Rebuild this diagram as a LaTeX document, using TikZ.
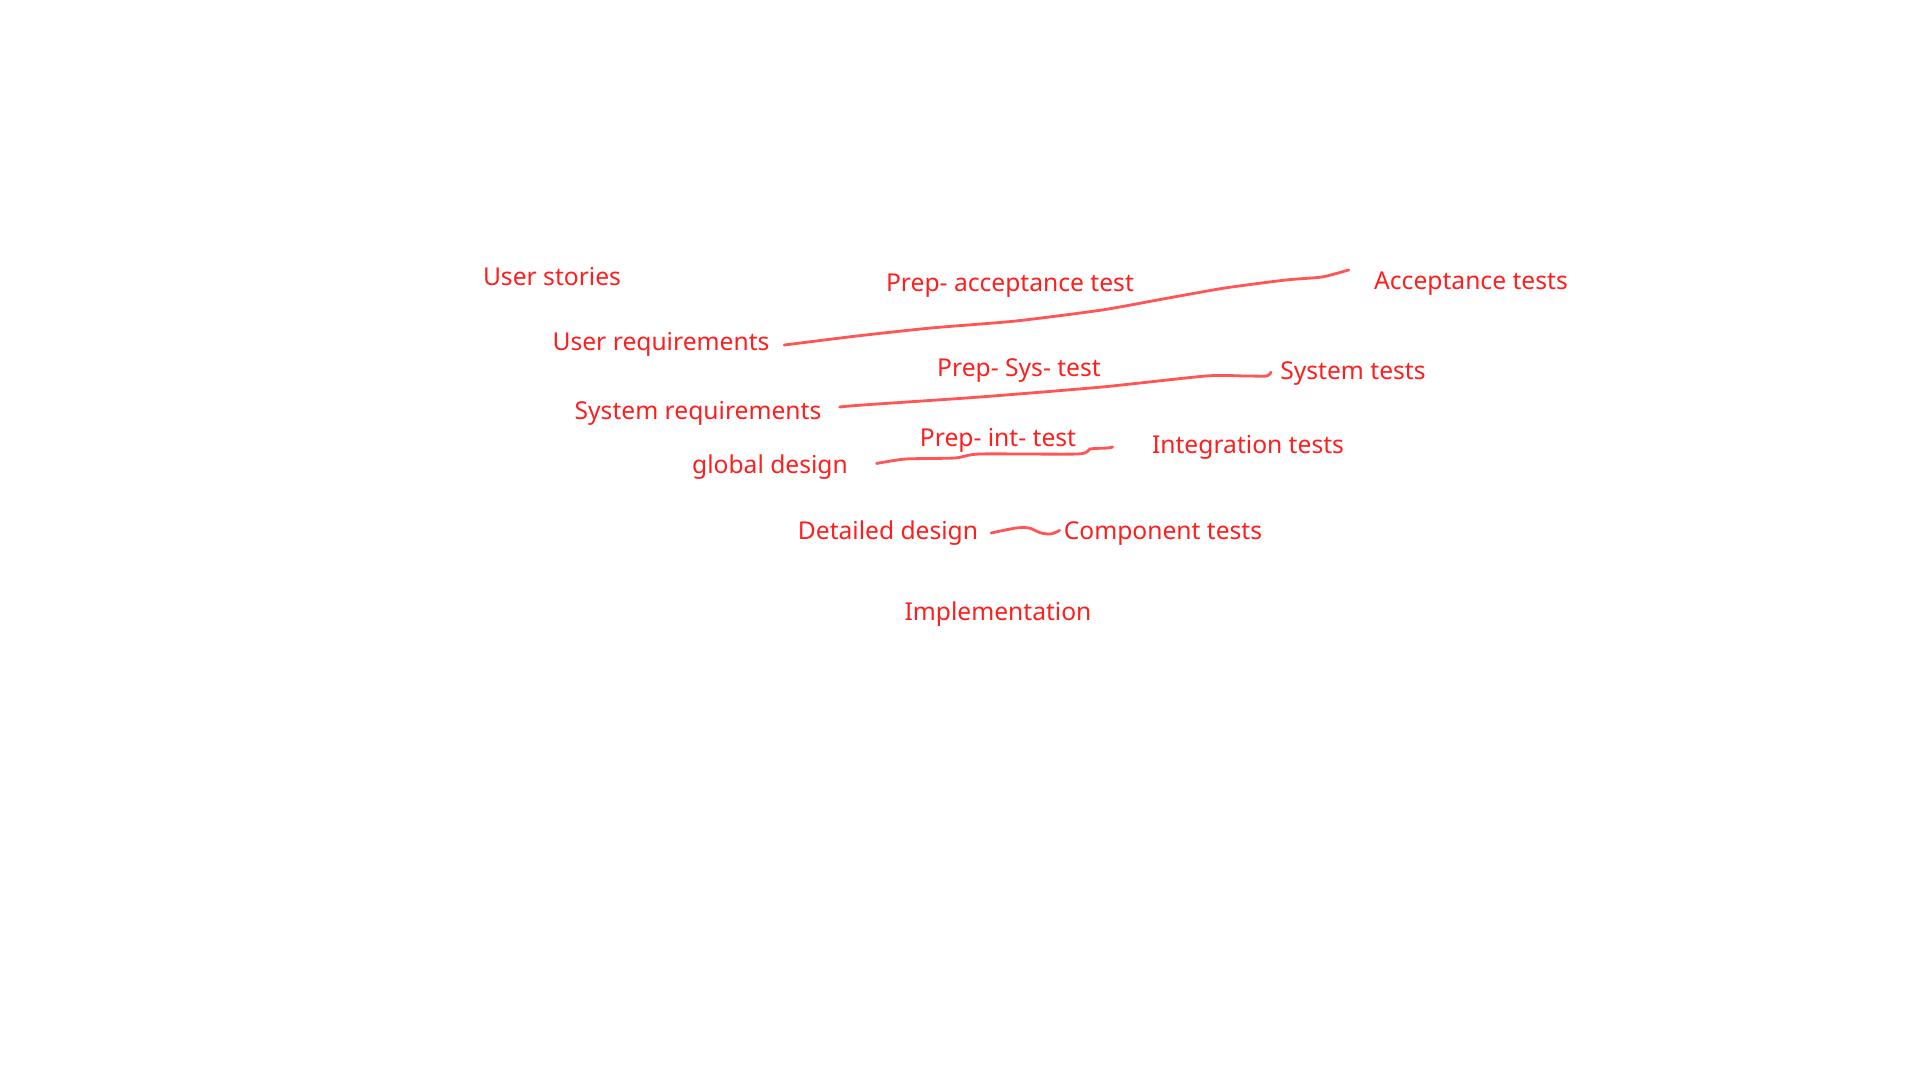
\documentclass[tikz,border=0pt]{standalone}
\usepackage{fontspec}
\setmainfont{Noto Sans}
\usepackage{tikz}
\usetikzlibrary{positioning}

\definecolor{lblred}{RGB}{255,30,30}
\definecolor{wirered}{RGB}{255,85,85}

\tikzset{
    lbl/.style={text=lblred, font=\fontsize{7pt}{8pt}\selectfont, inner sep=1pt},
    wire/.style={draw=wirered, line width=0.8pt, line cap=round}
}

\begin{document}
\begin{tikzpicture}[x=0.01cm, y=-0.01cm]
\useasboundingbox (0,0) rectangle (1920,1080);
% left side of the V
\node[lbl] (usr)  at (552,277) {User stories};
\node[lbl] (ureq) at (661,344) {User requirements};
\node[lbl] (sreq) at (698,413) {System requirements};
\node[lbl] (gdes) at (770,467) {global design};
\node[lbl] (ddes) at (888,533) {Detailed design};
\node[lbl] (impl) at (998,614) {Implementation};
% right side
\node[lbl] (acc)  at (1471,284) {Acceptance tests};
\node[lbl] (syst) at (1353,374) {System tests};
\node[lbl] (intt) at (1248,447) {Integration tests};
\node[lbl] (comp) at (1163,534) {Component tests};
% preparation labels
\node[lbl] (pacc) at (1010,286) {Prep- acceptance test};
\node[lbl] (psys) at (1019,371) {Prep- Sys- test};
\node[lbl] (pint) at (998,440) {Prep- int- test};

\draw[wire] plot[smooth, tension=0.4] coordinates {([xshift=3pt,yshift=-0.3pt]ureq.east) (857,336) (931,328) (1016,321) (1102,310) (1163,299) (1225,288) (1286,280) (1322,277) ([xshift=-6pt,yshift=4pt]acc.west)};
\draw[wire] plot[smooth, tension=0.4] coordinates {([xshift=4pt,yshift=1.7pt]sreq.east) (863,405) (980,397) (1102,387) (1206,376) (1245,376) (1267,376) ([xshift=-1.5pt,yshift=0.5pt]syst.west)};
\draw[wire] plot[smooth, tension=0.4] coordinates {([xshift=7pt,yshift=1pt]gdes.east) (906,459) (955,458) (980,454) (1078,454) (1090,449) (1108,448) ([xshift=-10pt]intt.west)};
\draw[wire] plot[smooth, tension=0.4] coordinates {([xshift=2.5pt]ddes.east) (1016,528) (1029,528) (1041,533) (1051,534) ([yshift=1pt]comp.west)};
\end{tikzpicture}
\end{document}
